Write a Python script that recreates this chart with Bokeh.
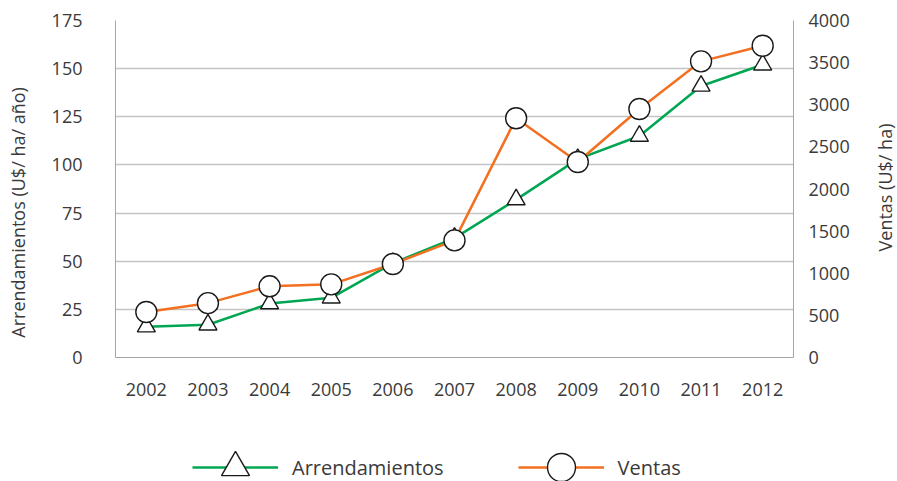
import math
from bokeh.plotting import figure
from bokeh.layouts import column, row
from bokeh.models import (Range1d, LinearAxis, FactorRange, Legend, LegendItem,
                          FixedTicker, Label)
from bokeh.embed import file_html
from bokeh.resources import INLINE

years = ["2002", "2003", "2004", "2005", "2006", "2007", "2008", "2009", "2010", "2011", "2012"]
arrendamientos = [16, 17, 28, 31, 49, 62, 82, 103, 115, 141, 152]
ventas = [540, 645, 845, 868, 1110, 1390, 2840, 2320, 2950, 3515, 3700]
left_ticks = [0, 25, 50, 75, 100, 125, 150, 175]
right_ticks = [0, 500, 1000, 1500, 2000, 2500, 3000, 3500, 4000]

FONT = "Open Sans"
TXT = "#3a3a3a"
GREEN = "#00a651"
ORANGE = "#f37021"
GRID = "#c4c4c4"
AXIS = "#a6a6a6"
NBSP = "\u00a0"

p = figure(width=860, height=420, x_range=FactorRange(*years),
           y_range=Range1d(0, 175), output_backend="svg", toolbar_location=None,
           min_border_left=115, min_border_right=67, min_border_top=20,
           min_border_bottom=63)
p.outline_line_color = None
p.background_fill_color = "white"
p.xgrid.grid_line_color = None
p.ygrid.grid_line_color = GRID
p.ygrid.grid_line_width = 1.5

p.extra_y_ranges = {"ventas": Range1d(0, 4000)}

# left axis
ya = p.yaxis[0]
ya.ticker = FixedTicker(ticks=left_ticks)
ya.axis_line_color = AXIS
ya.major_tick_line_color = None
ya.minor_tick_line_color = None
ya.major_tick_out = 0
ya.major_label_standoff = 33
ya.major_label_text_font = FONT
ya.major_label_text_font_size = "18px"
ya.major_label_text_color = TXT
ya.axis_label = "Arrendamientos (U$/ ha/ año)" + NBSP * 10
ya.axis_label_standoff = 19
ya.axis_label_text_font = FONT
ya.axis_label_text_font_size = "18px"
ya.axis_label_text_font_style = "normal"
ya.axis_label_text_color = TXT

# bottom axis
xa = p.xaxis[0]
xa.axis_line_color = AXIS
xa.major_tick_line_color = None
xa.major_tick_out = 0
xa.major_label_standoff = 25
xa.major_label_text_font = FONT
xa.major_label_text_font_size = "18px"
xa.major_label_text_color = TXT

# right axis
ra = LinearAxis(y_range_name="ventas", ticker=FixedTicker(ticks=right_ticks))
ra.axis_line_color = AXIS
ra.major_tick_line_color = None
ra.minor_tick_line_color = None
ra.major_tick_out = 0
ra.major_label_standoff = 15
ra.major_label_text_font = FONT
ra.major_label_text_font_size = "18px"
ra.major_label_text_color = TXT
p.add_layout(ra, "right")

line_a = dict(line_color=GREEN, line_width=2.5)
mark_a = dict(marker="triangle", fill_color="white", line_color="#1a1a1a", line_width=1.4)
line_v = dict(line_color=ORANGE, line_width=2.5)
mark_v = dict(marker="circle", fill_color="white", line_color="#1a1a1a", line_width=1.4)

p.line(years, arrendamientos, **line_a)
p.scatter(years, arrendamientos, size=18, **mark_a)
p.line(years, ventas, y_range_name="ventas", **line_v)
p.scatter(years, ventas, size=21, y_range_name="ventas", **mark_v)

# legend strip below the chart (its series copies lie outside its visible range)
q = figure(width=860, height=61, x_range=FactorRange(*years), y_range=Range1d(-2, -1),
           output_backend="svg", toolbar_location=None,
           x_axis_location=None, y_axis_location=None,
           min_border_left=0, min_border_right=0, min_border_top=0,
           min_border_bottom=0)
q.outline_line_color = None
q.xgrid.grid_line_color = None
q.ygrid.grid_line_color = None
la = q.line(years, arrendamientos, **line_a)
ma = q.scatter(years, arrendamientos, size=18, **mark_a)
lv = q.line(years, ventas, **line_v)
mv = q.scatter(years, ventas, size=21, **mark_v)

legend = Legend(items=[LegendItem(label="Arrendamientos", renderers=[la, ma]),
                       LegendItem(label="Ventas", renderers=[lv, mv])],
                orientation="horizontal", location=(77, -21),
                glyph_width=86, glyph_height=70, label_standoff=14, spacing=74,
                padding=0, margin=0, border_line_color=None,
                background_fill_alpha=0,
                label_text_font=FONT, label_text_font_size="20px",
                label_text_color=TXT)
q.add_layout(legend, "center")

# narrow strip on the right carrying the right-axis title (reads bottom-to-top)
r = figure(width=37, height=481, x_range=Range1d(0, 1), y_range=Range1d(0, 1),
           output_backend="svg", toolbar_location=None,
           x_axis_location=None, y_axis_location=None,
           min_border_left=0, min_border_right=0, min_border_top=0,
           min_border_bottom=0)
r.outline_line_color = None
r.xgrid.grid_line_color = None
r.ygrid.grid_line_color = None
r.add_layout(Label(x=24, y=294, x_units="screen", y_units="screen",
                   text="Ventas (U$/ ha)", angle=math.pi / 2,
                   text_align="center", text_baseline="middle",
                   text_font=FONT, text_font_size="18px", text_color=TXT))

layout = row(column(p, q, spacing=0), r, spacing=0)
open("out.html", "w").write(file_html(layout, INLINE))
